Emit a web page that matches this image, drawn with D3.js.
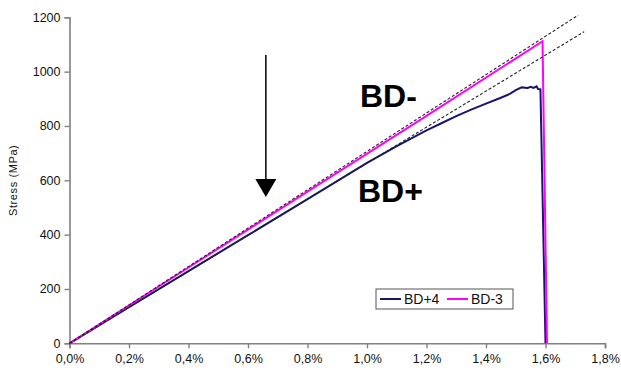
<!DOCTYPE html>
<html>
<head>
<meta charset="utf-8">
<script src="https://cdn.jsdelivr.net/npm/d3@7"></script>
<style>
  body { margin: 0; background: #fff; }
  svg { display: block; font-family: "Liberation Sans", Arial, sans-serif; }
</style>
</head>
<body>
<svg id="chart"></svg>
<script>
// strain in %, stress in MPa
const bdPlusStrain = [0, 0.2, 0.4, 0.6, 0.8, 1.0, 1.1, 1.2, 1.25, 1.3, 1.35, 1.4, 1.45, 1.48, 1.5, 1.52, 1.54, 1.55, 1.56, 1.57, 1.575, 1.583, 1.6];
const bdPlusStress = [0, 133, 266, 398, 531, 664, 726, 784, 810, 836, 860, 882, 904, 918, 932, 942, 940, 944, 940, 946, 936, 935, 0];
const bdMinusStrain = [0, 0.4, 0.8, 1.2, 1.59, 1.605];
const bdMinusStress = [0, 279, 558, 837, 1112, 0];
// fitted elastic lines (dashed)
const fitUpper = [[0, 0], [1.71, 1208]];
const fitLower = [[0, 0], [1.73, 1147]];
const xTicks = [0, 0.2, 0.4, 0.6, 0.8, 1.0, 1.2, 1.4, 1.6, 1.8];
const yTicks = [0, 200, 400, 600, 800, 1000, 1200];
const seriesNames = ["BD+4", "BD-3"];
const seriesColors = ["#16166e", "#ff00ff"];

const width = 621, height = 371;
const svg = d3.select("#chart").attr("width", width).attr("height", height);

const x = d3.scaleLinear().domain([0, 1.8]).range([69.5, 605]);
const y = d3.scaleLinear().domain([0, 1200]).range([343.3, 17.3]);

// axes
const xAxis = svg.append("g")
   .attr("transform", `translate(0, ${y(0)})`)
   .call(d3.axisBottom(x).tickValues(xTicks).tickSize(5).tickPadding(6)
          .tickFormat(d => d.toFixed(1).replace(".", ",") + "%"));

const yAxis = svg.append("g")
   .attr("transform", `translate(${x(0)}, 0)`)
   .call(d3.axisLeft(y).tickValues(yTicks).tickSize(5).tickPadding(4)
          .tickFormat(d3.format("d")));

[xAxis, yAxis].forEach(a => {
  a.select(".domain").attr("stroke", "#808080").attr("stroke-width", 1.6);
  a.selectAll(".tick line").attr("stroke", "#808080").attr("stroke-width", 1.4);
  a.selectAll(".tick text").attr("fill", "#111").style("font-size", "12.5px");
});

svg.append("text")
   .attr("transform", `translate(17, ${y(600)}) rotate(-90)`)
   .attr("text-anchor", "middle")
   .attr("fill", "#111")
   .style("font-size", "11px")
   .style("letter-spacing", "0.6px")
   .text("Stress (MPa)");

// curves
const line = d3.line().x(d => x(d[0])).y(d => y(d[1]));
const bdPlus = bdPlusStrain.map((s, i) => [s, bdPlusStress[i]]);
const bdMinus = bdMinusStrain.map((s, i) => [s, bdMinusStress[i]]);

svg.append("path").datum(bdPlus)
   .attr("d", line).attr("fill", "none")
   .attr("stroke", seriesColors[0]).attr("stroke-width", 2);

svg.append("path").datum(bdMinus)
   .attr("d", line).attr("fill", "none")
   .attr("stroke", seriesColors[1]).attr("stroke-width", 2);

[fitUpper, fitLower].forEach(f => {
  svg.append("path").datum(f)
     .attr("d", line).attr("fill", "none")
     .attr("stroke", "#222").attr("stroke-width", 1.1)
     .attr("stroke-dasharray", "3,2");
});

// annotations
svg.append("text").attr("x", 360).attr("y", 107)
   .style("font-size", "32px").style("font-weight", "bold").text("BD-");
svg.append("text").attr("x", 358).attr("y", 202)
   .style("font-size", "32px").style("font-weight", "bold").text("BD+");

const ax = x(0.66);
svg.append("line")
   .attr("x1", ax).attr("x2", ax).attr("y1", 55).attr("y2", 182)
   .attr("stroke", "#000").attr("stroke-width", 1.5);
svg.append("path")
   .attr("d", `M${ax - 10.5},179 L${ax + 10.5},179 L${ax},197 Z`)
   .attr("fill", "#000");

// legend
const legend = svg.append("g").attr("transform", "translate(376, 289)");
legend.append("rect").attr("width", 137).attr("height", 20)
      .attr("fill", "#fff").attr("stroke", "#555").attr("stroke-width", 1);
seriesNames.forEach((name, i) => {
  const lx = 4 + i * 67;
  legend.append("line").attr("x1", lx).attr("x2", lx + 21)
        .attr("y1", 10).attr("y2", 10)
        .attr("stroke", seriesColors[i]).attr("stroke-width", 2);
  legend.append("text").attr("x", lx + 24).attr("y", 15)
        .attr("fill", "#111").style("font-size", "14px").text(name);
});
</script>
</body>
</html>
